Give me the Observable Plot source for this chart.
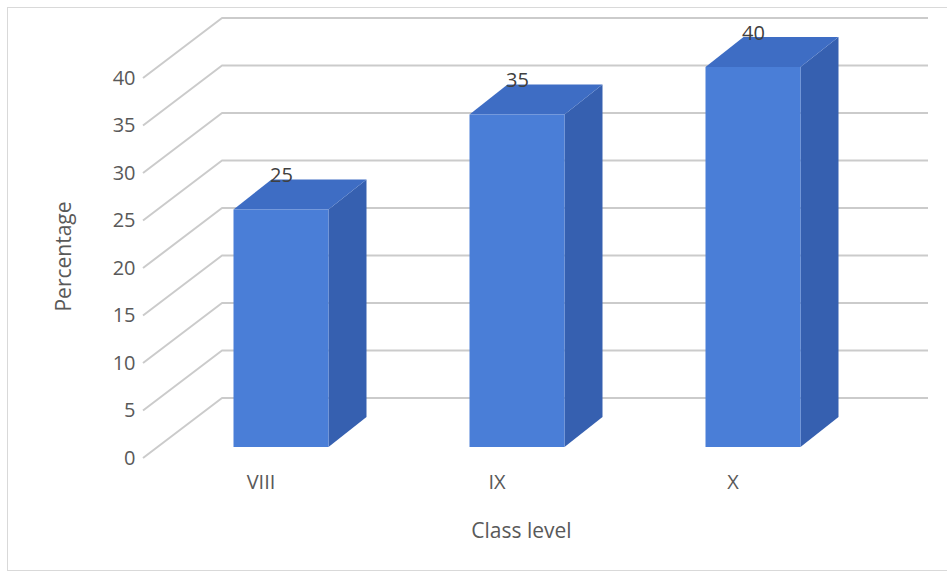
<!DOCTYPE html>
<html><head><meta charset="utf-8">
<script src="https://cdn.jsdelivr.net/npm/d3@7"></script>
<script src="https://cdn.jsdelivr.net/npm/@observablehq/plot@0.6"></script>
<style>
body{margin:0;background:#fff;}
#wrap{position:relative;width:947px;height:574px;overflow:hidden;}
#border{position:absolute;left:7px;top:7px;width:945px;height:564px;border:1px solid #d9d9d9;box-sizing:border-box;pointer-events:none;}
</style></head><body><div id="wrap"><div id="border"></div></div>
<script>
// ---- data ----
const classes = ["VIII", "IX", "X"];
const percentages = [25, 35, 40];
const yTicks = [0, 5, 10, 15, 20, 25, 30, 35, 40];
const xTitle = "Class level";
const yTitle = "Percentage";

const data = classes.map((c, i) => ({cls: c, pct: percentages[i]}));

// ---- style / oblique projection (pixels) ----
const FRONT = "#4a7ed7", TOP = "#3e6dc4", SIDE = "#3660b0";
const GRID = "#cbcbcb", TICK = "#595959", LABEL = "#404040";
const WALL = {dx: 79, dy: -60};    // depth of back wall
const BAR = {dx: 20.5, dy: -11};   // depth of bar front
const DEPTH = {dx: 38, dy: -30};   // bar thickness

function wallLines(index, {y}, values, dims) {
  const g = d3.create("svg:g")
    .attr("fill", "none").attr("stroke", GRID).attr("stroke-width", 2)
    .attr("stroke-linejoin", "round");
  const x0 = dims.marginLeft, x1 = dims.width - dims.marginRight;
  for (const t of yTicks) {
    const yy = y(t);
    g.append("path").attr("d",
      `M${x0},${yy}L${x0 + WALL.dx},${yy + WALL.dy}L${x1 + WALL.dx},${yy + WALL.dy}`);
  }
  return g.node();
}

function solids(index, {x, y}) {
  const g = d3.create("svg:g");
  const bw = x.bandwidth();
  for (const d of data) {
    const xl = x(d.cls) + BAR.dx, xr = xl + bw;
    const yt = y(d.pct) + BAR.dy, yb = y(0) + BAR.dy;
    g.append("path").attr("fill", SIDE).attr("d",
      `M${xr},${yt}L${xr + DEPTH.dx},${yt + DEPTH.dy}L${xr + DEPTH.dx},${yb + DEPTH.dy}L${xr},${yb}Z`);
    g.append("path").attr("fill", TOP).attr("d",
      `M${xl},${yt}L${xl + DEPTH.dx},${yt + DEPTH.dy}L${xr + DEPTH.dx},${yt + DEPTH.dy}L${xr},${yt}Z`);
  }
  return g.node();
}

const step = 236, bw = 95, pad = 1 - bw / step, c0 = 260;
const r0 = c0 - step * (1 + pad) / 2;

const chart = Plot.plot({
  width: 947,
  height: 574,
  marginLeft: 143,
  marginRight: 98,
  marginTop: 78,
  marginBottom: 116,
  style: {fontFamily: "'Open Sans', 'Noto Sans', sans-serif", fontSize: "20px", background: "transparent"},
  x: {type: "band", domain: classes, range: [r0, r0 + step * (classes.length + pad)], padding: pad, label: null},
  y: {domain: [0, 40], label: null},
  marks: [
    wallLines,
    solids,
    Plot.barY(data, {x: "cls", y: "pct", fill: FRONT, dx: BAR.dx, dy: BAR.dy}),
    Plot.text(data, {x: "cls", y: "pct", text: d => String(d.pct), dx: BAR.dx, dy: -45, fill: LABEL, fontSize: 20}),
    Plot.axisY(yTicks, {tickSize: 0, tickPadding: 8, color: TICK, label: null}),
    Plot.axisX({tickSize: 0, tickPadding: 16, color: TICK, label: null}),
    Plot.text([yTitle], {frameAnchor: "left", dx: -79, dy: -12, rotate: -90, textAnchor: "middle", lineAnchor: "middle", fill: TICK, fontSize: 21}),
    Plot.text([xTitle], {frameAnchor: "bottom", dx: 25, dy: 73, textAnchor: "middle", lineAnchor: "middle", fill: TICK, fontSize: 21})
  ]
});
chart.style.position = "absolute";
chart.style.left = "0px";
chart.style.top = "0px";
document.getElementById("wrap").appendChild(chart);
</script>
</body></html>
